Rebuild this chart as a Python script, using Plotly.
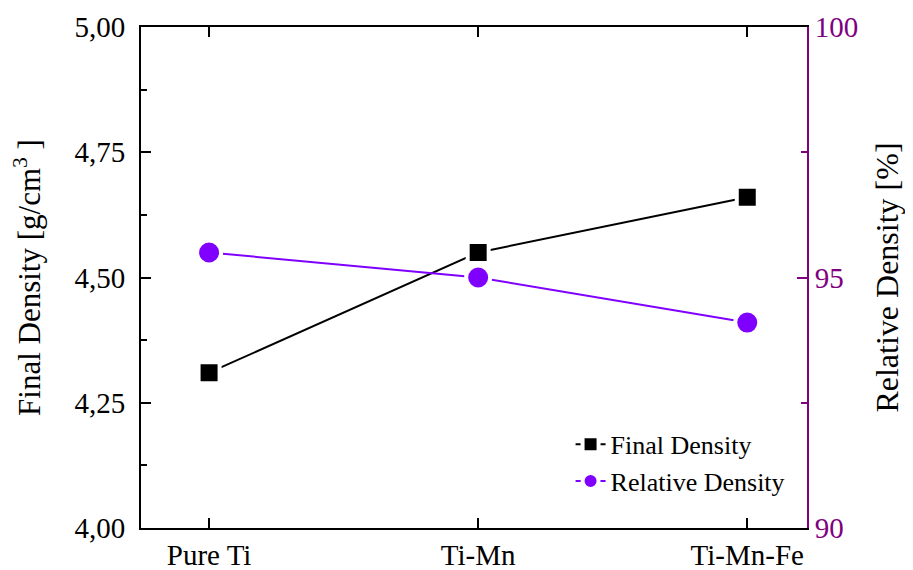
import plotly.graph_objects as go

categories = ["Pure Ti", "Ti-Mn", "Ti-Mn-Fe"]
final_density = [4.31, 4.55, 4.66]
relative_density = [95.5, 95.0, 94.1]

xpos = list(range(len(categories)))
FONT = "Liberation Serif, Times New Roman, serif"
PURPLE = "#8000ff"
AXPURPLE = "#800080"

fig = go.Figure()
fig.add_trace(go.Scatter(
    x=xpos, y=final_density, name="Final Density", mode="lines+markers",
    line=dict(color="black", width=2),
    marker=dict(symbol="square", size=21, color="black", line=dict(color="white", width=4)),
    yaxis="y"))
fig.add_trace(go.Scatter(
    x=xpos, y=relative_density, name="Relative Density", mode="lines+markers",
    line=dict(color=PURPLE, width=2),
    marker=dict(symbol="circle", size=24, color=PURPLE, line=dict(color="white", width=4)),
    yaxis="y2"))

fig.update_layout(
    width=913, height=570,
    paper_bgcolor="white", plot_bgcolor="white",
    separators=",.",
    font=dict(family=FONT, size=30, color="black"),
    margin=dict(l=133, r=114, t=19, b=50, autoexpand=False),
    showlegend=True,
    legend=dict(x=0.645, y=0.214, xanchor="left", yanchor="top",
                bgcolor="rgba(0,0,0,0)", font=dict(family=FONT, size=26),
                tracegroupgap=0),
    xaxis=dict(
        range=[-0.253, 2.222], tickmode="array", tickvals=xpos, ticktext=categories,
        showline=True, linecolor="black", linewidth=2, mirror="ticks",
        ticks="inside", ticklen=10, tickwidth=2, tickcolor="black",
        showgrid=False, zeroline=False, tickfont=dict(size=29), automargin=False),
    yaxis=dict(
        range=[4.0, 5.0], dtick=0.25, tick0=4.0, tickformat=".2f",
        showline=True, linecolor="black", linewidth=2,
        ticks="inside", ticklen=10, tickwidth=2, tickcolor="black",
        minor=dict(ticks="inside", dtick=0.125, ticklen=6, tickwidth=2, tickcolor="black", showgrid=False),
        showgrid=False, zeroline=False, automargin=False, ticklabelstandoff=8,
        title=dict(text="Final Density [g/cm<sup>3</sup> ]", font=dict(size=31), standoff=32),
        tickfont=dict(size=29)),
    yaxis2=dict(
        range=[90, 100], dtick=5, tick0=90, overlaying="y", side="right",
        showline=True, linecolor=AXPURPLE, linewidth=2,
        ticks="inside", ticklen=10, tickwidth=2, tickcolor=AXPURPLE,
        minor=dict(ticks="inside", dtick=2.5, ticklen=6, tickwidth=2, tickcolor=AXPURPLE, showgrid=False),
        showgrid=False, zeroline=False, automargin=False,
        tickfont=dict(size=29, color=AXPURPLE),
        title=dict(text="Relative Density [%]", font=dict(size=32, color="black"), standoff=18)),
)

fig.write_html("out.html")
